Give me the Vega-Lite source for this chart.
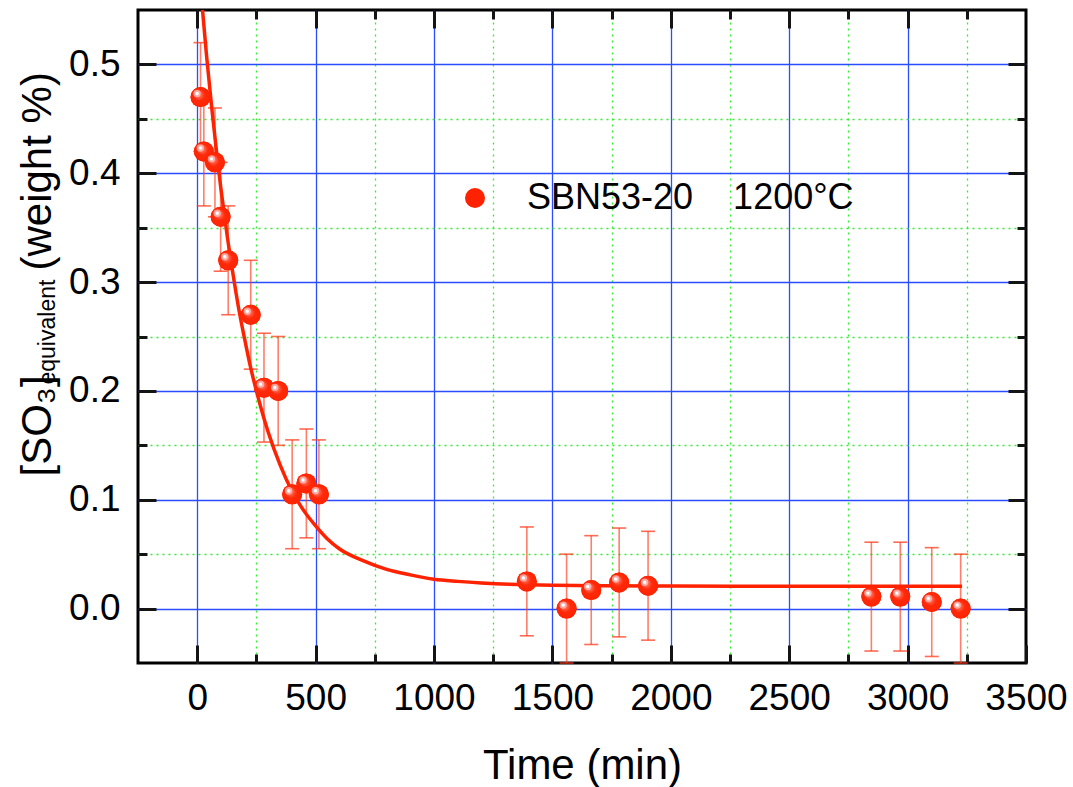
{
  "$schema": "https://vega.github.io/schema/vega-lite/v6.json",
  "width": 888,
  "height": 653,
  "autosize": {"type": "none"},
  "padding": {"left": 138, "top": 10, "right": 47, "bottom": 124},
  "background": "white",
  "config": {
    "font": "Liberation Sans",
    "view": {"stroke": "black", "strokeWidth": 3}
  },
  "datasets": {
    "pts": [
      {"t": 14, "v": 0.47, "lo": 0.42, "hi": 0.52, "series": "SBN53-20\u00a0\u00a0\u00a0\u00a01200°C"},
      {"t": 28, "v": 0.42, "lo": 0.37, "hi": 0.47, "series": "SBN53-20\u00a0\u00a0\u00a0\u00a01200°C"},
      {"t": 75, "v": 0.41, "lo": 0.36, "hi": 0.46, "series": "SBN53-20\u00a0\u00a0\u00a0\u00a01200°C"},
      {"t": 99, "v": 0.36, "lo": 0.31, "hi": 0.41, "series": "SBN53-20\u00a0\u00a0\u00a0\u00a01200°C"},
      {"t": 131, "v": 0.32, "lo": 0.27, "hi": 0.37, "series": "SBN53-20\u00a0\u00a0\u00a0\u00a01200°C"},
      {"t": 226, "v": 0.27, "lo": 0.22, "hi": 0.32, "series": "SBN53-20\u00a0\u00a0\u00a0\u00a01200°C"},
      {"t": 282, "v": 0.203, "lo": 0.153, "hi": 0.253, "series": "SBN53-20\u00a0\u00a0\u00a0\u00a01200°C"},
      {"t": 342, "v": 0.2, "lo": 0.15, "hi": 0.25, "series": "SBN53-20\u00a0\u00a0\u00a0\u00a01200°C"},
      {"t": 401, "v": 0.105, "lo": 0.055, "hi": 0.155, "series": "SBN53-20\u00a0\u00a0\u00a0\u00a01200°C"},
      {"t": 461, "v": 0.115, "lo": 0.065, "hi": 0.165, "series": "SBN53-20\u00a0\u00a0\u00a0\u00a01200°C"},
      {"t": 514, "v": 0.105, "lo": 0.055, "hi": 0.155, "series": "SBN53-20\u00a0\u00a0\u00a0\u00a01200°C"},
      {"t": 1392, "v": 0.025, "lo": -0.025, "hi": 0.075, "series": "SBN53-20\u00a0\u00a0\u00a0\u00a01200°C"},
      {"t": 1560, "v": 0.0, "lo": -0.05, "hi": 0.05, "series": "SBN53-20\u00a0\u00a0\u00a0\u00a01200°C"},
      {"t": 1664, "v": 0.017, "lo": -0.033, "hi": 0.067, "series": "SBN53-20\u00a0\u00a0\u00a0\u00a01200°C"},
      {"t": 1782, "v": 0.024, "lo": -0.026, "hi": 0.074, "series": "SBN53-20\u00a0\u00a0\u00a0\u00a01200°C"},
      {"t": 1904, "v": 0.021, "lo": -0.029, "hi": 0.071, "series": "SBN53-20\u00a0\u00a0\u00a0\u00a01200°C"},
      {"t": 2847, "v": 0.011, "lo": -0.039, "hi": 0.061, "series": "SBN53-20\u00a0\u00a0\u00a0\u00a01200°C"},
      {"t": 2969, "v": 0.011, "lo": -0.039, "hi": 0.061, "series": "SBN53-20\u00a0\u00a0\u00a0\u00a01200°C"},
      {"t": 3102, "v": 0.006, "lo": -0.044, "hi": 0.056, "series": "SBN53-20\u00a0\u00a0\u00a0\u00a01200°C"},
      {"t": 3224, "v": 0.0, "lo": -0.05, "hi": 0.05, "series": "SBN53-20\u00a0\u00a0\u00a0\u00a01200°C"}
    ],
    "fit": [
      {"t": 20, "v": 0.556}, {"t": 40, "v": 0.507}, {"t": 60, "v": 0.463},
      {"t": 80, "v": 0.423}, {"t": 100, "v": 0.386}, {"t": 125, "v": 0.345},
      {"t": 150, "v": 0.309}, {"t": 175, "v": 0.276}, {"t": 200, "v": 0.248},
      {"t": 225, "v": 0.222}, {"t": 250, "v": 0.2}, {"t": 275, "v": 0.18},
      {"t": 300, "v": 0.162}, {"t": 350, "v": 0.132}, {"t": 400, "v": 0.108},
      {"t": 450, "v": 0.09}, {"t": 500, "v": 0.076}, {"t": 550, "v": 0.064},
      {"t": 600, "v": 0.055}, {"t": 700, "v": 0.044}, {"t": 800, "v": 0.036},
      {"t": 900, "v": 0.031}, {"t": 1000, "v": 0.027}, {"t": 1100, "v": 0.025},
      {"t": 1200, "v": 0.0235}, {"t": 1400, "v": 0.0218}, {"t": 1700, "v": 0.021},
      {"t": 2000, "v": 0.0207}, {"t": 2500, "v": 0.0205}, {"t": 3230, "v": 0.0205}
    ]
  },
  "resolve": {"axis": {"x": "independent", "y": "independent"}},
  "layer": [
    {
      "data": {"name": "pts"},
      "mark": {"type": "rule", "color": "#ff3a1a", "strokeWidth": 1.6, "opacity": 0.65},
      "encoding": {
        "x": {"field": "t", "type": "quantitative",
          "scale": {"domain": [-250, 3500], "nice": false, "zero": false},
          "axis": {"orient": "bottom", "values": [0, 500, 1000, 1500, 2000, 2500, 3000],
            "grid": true, "gridColor": "#2a4dff", "gridWidth": 1.3, "gridOpacity": 1,
            "domain": false, "ticks": false, "labels": false, "title": null, "zindex": 0}},
        "y": {"field": "lo", "type": "quantitative",
          "scale": {"domain": [-0.05, 0.55], "nice": false, "zero": false},
          "axis": {"orient": "left", "values": [0, 0.1, 0.2, 0.3, 0.4, 0.5],
            "grid": true, "gridColor": "#2a4dff", "gridWidth": 1.3, "gridOpacity": 1,
            "domain": false, "ticks": false, "labels": false, "zindex": 0,
            "title": "[SO₃]", "titleFont": "Liberation Sans", "titleFontSize": 42,
            "titleFontWeight": "normal", "titleColor": "#000000", "titleAngle": 270,
            "titleAlign": "left", "titleBaseline": "alphabetic",
            "titleX": -88, "titleY": 466}},
        "y2": {"field": "hi"}
      }
    },
    {
      "data": {"name": "pts"},
      "mark": {"type": "tick", "orient": "horizontal", "color": "#ff3a1a", "size": 14, "thickness": 1.6, "opacity": 0.75},
      "encoding": {
        "x": {"field": "t", "type": "quantitative",
          "scale": {"domain": [-250, 3500], "nice": false, "zero": false},
          "axis": {"orient": "bottom", "values": [250, 750, 1250, 1750, 2250, 2750, 3250],
            "grid": true, "gridColor": "#33ee33", "gridDash": [2, 4], "gridWidth": 1.3, "gridOpacity": 1,
            "domain": false, "ticks": false, "labels": false, "title": null, "zindex": 0}},
        "y": {"field": "lo", "type": "quantitative",
          "scale": {"domain": [-0.05, 0.55], "nice": false, "zero": false},
          "axis": {"orient": "left", "values": [0.05, 0.15, 0.25, 0.35, 0.45],
            "grid": true, "gridColor": "#33ee33", "gridDash": [2, 4], "gridWidth": 1.3, "gridOpacity": 1,
            "domain": false, "ticks": false, "labels": false, "zindex": 0,
            "title": "equivalent", "titleFont": "Liberation Sans", "titleFontSize": 23,
            "titleFontWeight": "normal", "titleColor": "#000000", "titleAngle": 270,
            "titleAlign": "left", "titleBaseline": "alphabetic",
            "titleX": -84, "titleY": 374}}
      }
    },
    {
      "data": {"name": "pts"},
      "mark": {"type": "tick", "orient": "horizontal", "color": "#ff3a1a", "size": 14, "thickness": 1.6, "opacity": 0.75},
      "encoding": {
        "x": {"field": "t", "type": "quantitative",
          "scale": {"domain": [-250, 3500], "nice": false, "zero": false}, "axis": null},
        "y": {"field": "hi", "type": "quantitative",
          "scale": {"domain": [-0.05, 0.55], "nice": false, "zero": false},
          "axis": {"orient": "left", "values": [0.5],
            "grid": false, "domain": false, "ticks": false, "labels": false,
            "title": "(weight %)", "titleFont": "Liberation Sans", "titleFontSize": 42,
            "titleFontWeight": "normal", "titleColor": "#000000", "titleAngle": 270,
            "titleAlign": "left", "titleBaseline": "alphabetic",
            "titleX": -88, "titleY": 260}}
      }
    },
    {
      "data": {"name": "fit"},
      "mark": {"type": "line", "color": "#ff2200", "strokeWidth": 3.5, "clip": true, "interpolate": "monotone"},
      "encoding": {
        "x": {"field": "t", "type": "quantitative",
          "scale": {"domain": [-250, 3500], "nice": false, "zero": false}, "axis": null},
        "y": {"field": "v", "type": "quantitative",
          "scale": {"domain": [-0.05, 0.55], "nice": false, "zero": false}, "axis": null}
      }
    },
    {
      "data": {"name": "pts"},
      "mark": {"type": "point", "filled": true, "size": 400, "opacity": 1},
      "encoding": {
        "x": {"field": "t", "type": "quantitative",
          "scale": {"domain": [-250, 3500], "nice": false, "zero": false},
          "axis": {"orient": "bottom", "values": [0, 500, 1000, 1500, 2000, 2500, 3000, 3500],
            "format": "d", "grid": false, "domain": false, "offset": -18,
            "ticks": true, "tickSize": 18, "tickColor": "#141414", "tickOpacity": 1, "tickWidth": 3,
            "labelPadding": 17, "labelFontSize": 37, "labelFont": "Liberation Sans", "labelColor": "#000000",
            "labelFlush": false, "labelOverlap": false,
            "title": "Time (min)", "titleFont": "Liberation Sans", "titleFontSize": 42,
            "titleFontWeight": "normal", "titleColor": "#000000", "titleBaseline": "alphabetic",
            "titleX": 444, "titleY": 133}},
        "y": {"field": "v", "type": "quantitative",
          "scale": {"domain": [-0.05, 0.55], "nice": false, "zero": false},
          "axis": {"orient": "left", "values": [0, 0.1, 0.2, 0.3, 0.4, 0.5],
            "format": ".1f", "grid": false, "domain": false, "offset": -18,
            "ticks": true, "tickSize": 18, "tickColor": "#141414", "tickOpacity": 1, "tickWidth": 3,
            "labelPadding": 18, "labelFontSize": 37, "labelFont": "Liberation Sans", "labelColor": "#000000",
            "labelFlush": false, "labelOverlap": false, "title": null}},
        "color": {"field": "series", "type": "nominal",
          "scale": {"range": ["#ff2200"]},
          "legend": {"orient": "none", "legendX": 319, "legendY": 170, "title": null,
            "padding": 0, "symbolSize": 400, "symbolType": "circle", "symbolStrokeWidth": 0,
            "labelFontSize": 36, "labelFont": "Liberation Sans", "labelColor": "#000000",
            "labelOffset": 34, "labelLimit": 700}}
      }
    },
    {
      "data": {"name": "pts"},
      "mark": {"type": "point", "filled": true, "size": 400, "opacity": 1, "strokeWidth": 0,
        "fill": {"gradient": "radial", "x1": 0.36, "y1": 0.32, "r1": 0, "x2": 0.5, "y2": 0.5, "r2": 0.55,
          "stops": [
            {"offset": 0, "color": "#ff9a8c"},
            {"offset": 0.3, "color": "#ff5a40"},
            {"offset": 0.5, "color": "#ff2a0a"},
            {"offset": 1, "color": "#ff2200"}
          ]}},
      "encoding": {
        "x": {"field": "t", "type": "quantitative",
          "scale": {"domain": [-250, 3500], "nice": false, "zero": false},
          "axis": {"orient": "bottom", "values": [250, 750, 1250, 1750, 2250, 2750, 3250],
            "grid": false, "domain": false, "offset": -9, "ticks": true, "tickSize": 9,
            "tickColor": "#141414", "tickOpacity": 1, "tickWidth": 3, "labels": false, "title": null}},
        "y": {"field": "v", "type": "quantitative",
          "scale": {"domain": [-0.05, 0.55], "nice": false, "zero": false},
          "axis": {"orient": "left", "values": [0.05, 0.15, 0.25, 0.35, 0.45],
            "grid": false, "domain": false, "offset": -9, "ticks": true, "tickSize": 9,
            "tickColor": "#141414", "tickOpacity": 1, "tickWidth": 3, "labels": false, "title": null}}
      }
    },
    {
      "data": {"name": "pts"},
      "mark": {"type": "point", "filled": true, "size": 55, "opacity": 0.75, "color": "#ffc0c0",
        "strokeWidth": 0, "xOffset": -3.5, "yOffset": -3.5},
      "encoding": {
        "x": {"field": "t", "type": "quantitative",
          "scale": {"domain": [-250, 3500], "nice": false, "zero": false},
          "axis": {"orient": "top", "values": [0, 500, 1000, 1500, 2000, 2500, 3000],
            "grid": false, "domain": false, "offset": -18, "ticks": true, "tickSize": 18,
            "tickColor": "#141414", "tickOpacity": 1, "tickWidth": 3, "labels": false, "title": null}},
        "y": {"field": "v", "type": "quantitative",
          "scale": {"domain": [-0.05, 0.55], "nice": false, "zero": false},
          "axis": {"orient": "right", "values": [0, 0.1, 0.2, 0.3, 0.4, 0.5],
            "grid": false, "domain": false, "offset": -18, "ticks": true, "tickSize": 18,
            "tickColor": "#141414", "tickOpacity": 1, "tickWidth": 3, "labels": false, "title": null}}
      }
    },
    {
      "data": {"name": "pts"},
      "mark": {"type": "point", "filled": true, "size": 12, "opacity": 1, "color": "#ffffff",
        "strokeWidth": 0, "xOffset": -3.5, "yOffset": -3.5},
      "encoding": {
        "x": {"field": "t", "type": "quantitative",
          "scale": {"domain": [-250, 3500], "nice": false, "zero": false},
          "axis": {"orient": "top", "values": [250, 750, 1250, 1750, 2250, 2750, 3250],
            "grid": false, "domain": false, "offset": -9, "ticks": true, "tickSize": 9,
            "tickColor": "#141414", "tickOpacity": 1, "tickWidth": 3, "labels": false, "title": null}},
        "y": {"field": "v", "type": "quantitative",
          "scale": {"domain": [-0.05, 0.55], "nice": false, "zero": false},
          "axis": {"orient": "right", "values": [0.05, 0.15, 0.25, 0.35, 0.45],
            "grid": false, "domain": false, "offset": -9, "ticks": true, "tickSize": 9,
            "tickColor": "#141414", "tickOpacity": 1, "tickWidth": 3, "labels": false, "title": null}}
      }
    }
  ]
}
